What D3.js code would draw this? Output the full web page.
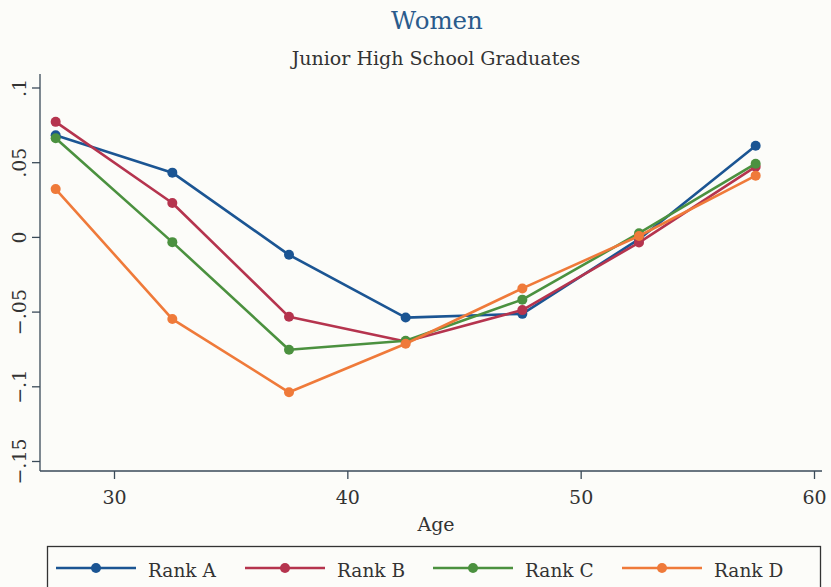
<!DOCTYPE html>
<html>
<head>
<meta charset="utf-8">
<script src="https://cdn.jsdelivr.net/npm/d3@7"></script>
<style>
  html, body { margin: 0; padding: 0; background: #fcfcf9; }
  svg { display: block; }
  text { font-family: "DejaVu Serif", "Liberation Serif", serif; fill: #333; }
</style>
</head>
<body>
<svg id="chart" width="831" height="587"></svg>
<script>
// Age groups (midpoints of five-year bands)
const ages = [27.5, 32.5, 37.5, 42.5, 47.5, 52.5, 57.5];

// Estimated effects by rank
const rankA = [0.068, 0.043, -0.012, -0.054, -0.0515, -0.0015, 0.061];
const rankB = [0.077, 0.0227, -0.0535, -0.070, -0.049, -0.0038, 0.047];
const rankC = [0.066, -0.0035, -0.0755, -0.0695, -0.042, 0.0025, 0.049];
const rankD = [0.032, -0.055, -0.104, -0.0715, -0.0345, 0.0006, 0.041];

const seriesNames = ["Rank A", "Rank B", "Rank C", "Rank D"];
const seriesColors = ["#1b5593", "#b5344e", "#4b913f", "#ef7a3a"];
const seriesValues = [rankA, rankB, rankC, rankD];

const xTicks = [30, 40, 50, 60];
const yTicks = [-0.15, -0.1, -0.05, 0, 0.05, 0.1];
const yTickLabels = ["\u2212.15", "\u2212.1", "\u2212.05", "0", ".05", ".1"];

const svg = d3.select("#chart");

const plotLeft = 40, plotRight = 822, plotTop = 74, plotBottom = 471;

const x = d3.scaleLinear().domain([30, 60]).range([114, 814]);
const y = d3.scaleLinear().domain([-0.15, 0.1]).range([461, 87.5]);

// Titles
svg.append("text")
  .attr("x", 437).attr("y", 29)
  .attr("text-anchor", "middle")
  .style("font-size", "24.5px")
  .style("fill", "#2a5b8c")
  .text("Women");
svg.append("text")
  .attr("x", 436).attr("y", 65)
  .attr("text-anchor", "middle")
  .style("font-size", "19px")
  .text("Junior High School Graduates");

// Y axis
const yAxis = d3.axisLeft(y)
  .tickValues(yTicks)
  .tickSize(8)
  .tickPadding(0)
  .tickFormat((d, i) => yTickLabels[i]);
const gy = svg.append("g")
  .attr("transform", `translate(${plotLeft},0)`)
  .call(yAxis);
gy.select(".domain").attr("d", `M0,${plotTop}V${plotBottom}`);
gy.selectAll(".tick line").attr("stroke", "#3a4a58").attr("stroke-width", 1.3);
gy.select(".domain").attr("stroke", "#3a4a58").attr("stroke-width", 1.3);
gy.selectAll(".tick text")
  .attr("x", 0).attr("y", 0)
  .attr("dy", null)
  .attr("text-anchor", "middle")
  .attr("transform", "translate(-21,0) rotate(-90)")
  .attr("dominant-baseline", "central")
  .style("font-size", "19px")
  .style("font-family", "\"DejaVu Serif\", serif")
  .style("fill", "#333");

// X axis
const xAxis = d3.axisBottom(x)
  .tickValues(xTicks)
  .tickSize(8)
  .tickPadding(12)
  .tickFormat(d3.format("d"));
const gx = svg.append("g")
  .attr("transform", `translate(0,${plotBottom})`)
  .call(xAxis);
gx.select(".domain").attr("d", `M${plotLeft},0H${plotRight}`)
  .attr("stroke", "#3a4a58").attr("stroke-width", 1.3);
gx.selectAll(".tick line").attr("stroke", "#3a4a58").attr("stroke-width", 1.3);
gx.selectAll(".tick text")
  .style("font-size", "19px")
  .style("font-family", "\"DejaVu Serif\", serif")
  .style("fill", "#333");

svg.append("text")
  .attr("x", 436).attr("y", 531)
  .attr("text-anchor", "middle")
  .style("font-size", "19px")
  .text("Age");

// Lines and markers
const line = d3.line().x((d, i) => x(ages[i])).y(d => y(d));
seriesValues.forEach((vals, s) => {
  const g = svg.append("g");
  g.append("path")
    .datum(vals)
    .attr("d", line)
    .attr("fill", "none")
    .attr("stroke", seriesColors[s])
    .attr("stroke-width", 2.6)
    .attr("stroke-linejoin", "round");
  g.selectAll("circle")
    .data(vals)
    .join("circle")
    .attr("cx", (d, i) => x(ages[i]))
    .attr("cy", d => y(d))
    .attr("r", 5)
    .attr("fill", seriesColors[s]);
});

// Legend
const legend = svg.append("g");
legend.append("rect")
  .attr("x", 47.5).attr("y", 546.5)
  .attr("width", 773).attr("height", 48)
  .attr("fill", "none")
  .attr("stroke", "#333")
  .attr("stroke-width", 1.3);
const legendX = [56, 245, 433, 622];
seriesNames.forEach((name, s) => {
  const lx = legendX[s];
  legend.append("line")
    .attr("x1", lx).attr("x2", lx + 80)
    .attr("y1", 568).attr("y2", 568)
    .attr("stroke", seriesColors[s])
    .attr("stroke-width", 2.6);
  legend.append("circle")
    .attr("cx", lx + 40).attr("cy", 568).attr("r", 5)
    .attr("fill", seriesColors[s]);
  legend.append("text")
    .attr("x", lx + 92).attr("y", 577)
    .style("font-size", "18.5px")
    .text(name);
});
</script>
</body>
</html>
